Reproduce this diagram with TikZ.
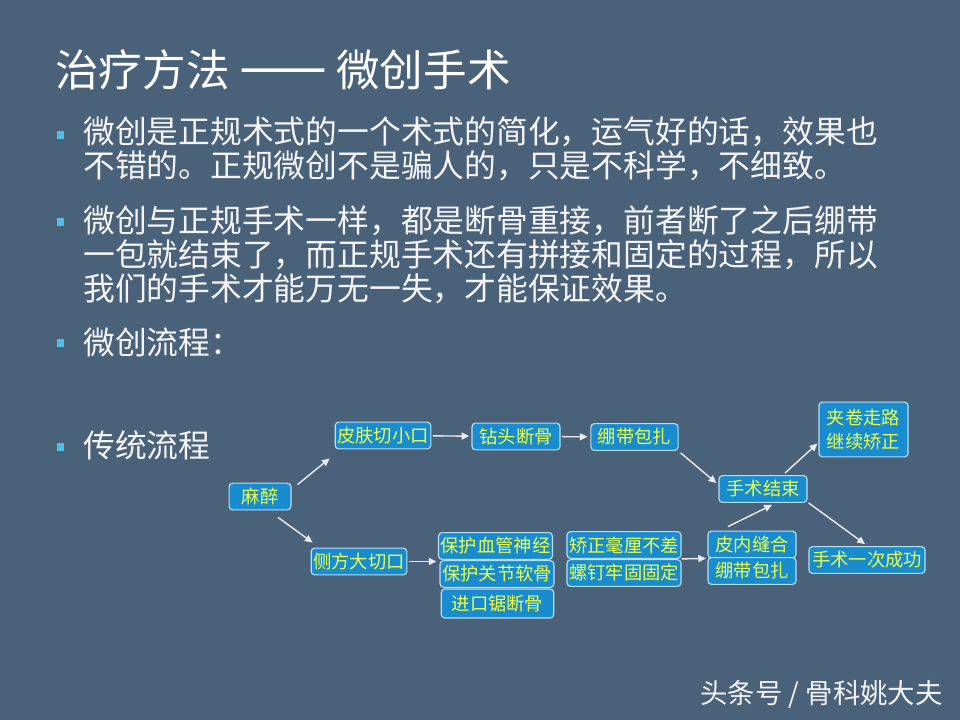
\documentclass[tikz,border=0pt]{standalone}
\usepackage{fontspec}
\setmainfont{Noto Sans CJK SC}
\usepackage{xcolor}
\usepackage{tikz}
\usetikzlibrary{arrows.meta}
\definecolor{slatebg}{HTML}{4A617A}
\definecolor{boxfill}{HTML}{198CCF}
\definecolor{boxline}{HTML}{B8E0F5}
\definecolor{boxtext}{HTML}{E8FF4A}
\definecolor{arrgray}{HTML}{E6ECF2}
\definecolor{bullcyan}{HTML}{4FC1E9}
\definecolor{bodytext}{HTML}{F4F4F4}

\begin{document}
\begin{tikzpicture}[x=0.025cm,y=-0.025cm,
    box/.style={draw=boxline, fill=boxfill, rounded corners=2.5pt, line width=0.8pt,
                text=boxtext, font=\fontsize{13}{17.5}\selectfont, align=center,
                inner xsep=1.5pt, inner ysep=0pt, minimum height=19pt},
    arr/.style={draw=arrgray, line width=1pt, -{Triangle[length=5.5pt,width=5pt]}},
    body/.style={anchor=west, inner sep=0pt, text=bodytext, align=left,
                 font=\fontsize{22.6}{24.2}\selectfont},
    bullet/.style={fill=bullcyan, inner sep=0pt, minimum size=5pt}]

  \useasboundingbox (0,0) rectangle (960,720);
  \fill[slatebg] (0,0) rectangle (960,720);

  % -- title and bullets --
  \node[anchor=west, inner sep=0pt, text=white, font=\fontsize{31}{33}\selectfont]
    (title) at (55,70) {治疗方法 {\addfontfeature{CharacterWidth=Full,FakeBold=4}——} 微创手术};

  \foreach \y/\n in {135/1, 222/2, 343/3, 447/4}
    \node[bullet] (dot\n) at (60.5,\y) {};

  \node[body] (para1) at (83,149) {微创是正规术式的一个术式的简化，运气好的话，效果也\\
    不错的。正规微创不是骗人的，只是不科学，不细致。};
  \node[body] (para2) at (83,255) {微创与正规手术一样，都是断骨重接，前者断了之后绷带\\
    一包就结束了，而正规手术还有拼接和固定的过程，所以\\
    我们的手术才能万无一失，才能保证效果。};
  \node[body] (para3) at (83,342) {微创流程：};
  \node[body] (para4) at (83,445) {传统流程};

  % -- flow boxes. Upper row is the small-cut route, lower row the open route.
  \node[box, minimum width=44pt] (mz) at (260,496.5) {麻醉};
  \node[box, minimum width=68pt] (pf) at (383,435.5) {皮肤切小口};
  \node[box, minimum width=62.6pt] (zt) at (516,436.5) {钻头断骨};
  \node[box, minimum width=62pt] (bd1) at (634.5,437) {绷带包扎};
  \node[box, minimum width=62.6pt] (js) at (763,489) {手术结束};
  \node[box, minimum width=63.3pt, minimum height=39pt] (jj) at (863.5,429.5) {夹卷走路\\继续矫正};
  \node[box, minimum width=82.5pt] (cg) at (867,560) {手术一次成功};

  \node[box, minimum width=66pt] (cf) at (359,561.5) {侧方大切口};
  \node[box, minimum width=80pt] (bh1) at (495.5,546) {保护血管神经};
  \node[box, minimum width=81pt] (bh2) at (497,574) {保护关节软骨};
  \node[box, minimum width=80pt, minimum height=20.6pt] (jk) at (497.5,603.5) {进口锯断骨};
  \node[box, minimum width=81pt] (jz) at (624,545) {矫正毫厘不差};
  \node[box, minimum width=81pt] (ld) at (624,573) {螺钉牢固固定};
  \node[box, minimum width=62.6pt] (pn) at (752,544.5) {皮内缝合};
  \node[box, minimum width=62.6pt] (bd2) at (752,571) {绷带包扎};

  % -- arrows --
  \draw[arr] ([shift={(6,2)}]mz.north east) -- ([shift={(-5,9)}]pf.south west);
  \draw[arr] ([shift={(18,7)}]mz.south) -- ([shift={(2,-5)}]cf.north west);
  \draw[arr, shorten <=1pt, shorten >=1.5pt] (pf) -- (zt);
  \draw[arr, shorten <=1pt, shorten >=2pt] (zt) -- (bd1);
  \draw[arr] ([shift={(2,2)}]bd1.south east) -- ([shift={(-2,8)}]js.north west);
  \draw[arr] ([shift={(22,-2)}]js.north) -- ([shift={(-1,-14)}]jj.south west);
  \draw[arr] ([shift={(1,0)}]js.south east) -- ([shift={(-2,-2)}]cg.north);

  \draw[arr, shorten <=1pt, shorten >=1pt] (cf.east) -- (cf.east -| bh1.west);
  \draw[arr, shorten >=1pt] (jz.south east) -- (pn.south west);
  \draw[arr] ([shift={(-24,-4)}]pn.north) -- ([shift={(9,2)}]js.south);

  % -- credit line, bottom right --
  \node[anchor=east, inner sep=0pt, text=white!90!gray, font=\fontsize{19.5}{21}\selectfont]
    (credit) at (943,694) {头条号 / 骨科姚大夫};
\end{tikzpicture}
\end{document}
